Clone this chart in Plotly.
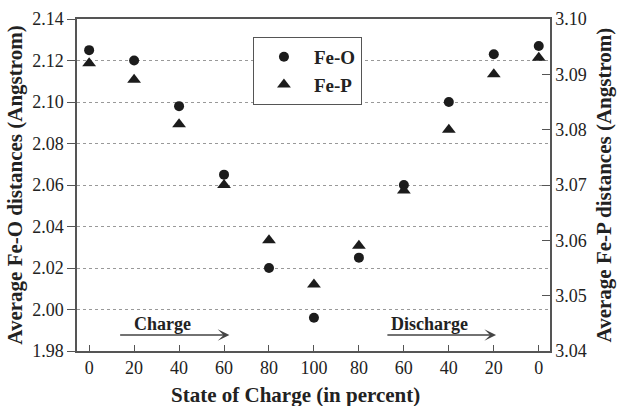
import plotly.graph_objects as go

soc_labels = ["0", "20", "40", "60", "80", "100", "80", "60", "40", "20", "0"]
fe_o = [2.125, 2.120, 2.098, 2.065, 2.020, 1.996, 2.025, 2.060, 2.100, 2.123, 2.127]
fe_p = [3.092, 3.089, 3.081, 3.070, 3.060, 3.052, 3.059, 3.069, 3.080, 3.090, 3.093]
x_idx = list(range(len(soc_labels)))

FONT = "Liberation Serif"
DARK = "#1c1c1c"
AXC = "#555555"

fig = go.Figure()
fig.add_trace(go.Scatter(x=x_idx, y=fe_o, mode="markers", name="<b>Fe-O</b>",
                         marker=dict(symbol="circle", size=10, color=DARK)))
fig.add_trace(go.Scatter(x=x_idx, y=fe_p, mode="markers", name="<b>Fe-P</b>", yaxis="y2",
                         marker=dict(symbol="triangle-up", size=12, color=DARK)))

fig.update_layout(
    width=617, height=406,
    margin=dict(l=77, r=67, t=19, b=55, autoexpand=False),
    paper_bgcolor="white", plot_bgcolor="white",
    font=dict(family=FONT, size=18, color="#222"),
    showlegend=True,
    legend=dict(x=0.372, y=0.946, xanchor="left", yanchor="top",
                bordercolor=AXC, borderwidth=1, bgcolor="white",
                font=dict(family=FONT, size=19, color="#222"),
                itemwidth=50, tracegroupgap=0),
    xaxis=dict(range=[-0.27, 10.25], tickmode="array", tickvals=x_idx, ticktext=soc_labels,
               showline=True, linecolor=AXC, linewidth=1.5, mirror=True, automargin=False,
               ticks="inside", ticklen=6, tickcolor=AXC, showgrid=False, zeroline=False,
               tickfont=dict(size=18)),
    yaxis=dict(range=[1.98, 2.14], dtick=0.02, tick0=1.98, tickformat=".2f",
               showline=True, linecolor=AXC, linewidth=1.5, automargin=False,
               ticks="outside", ticklen=8, tickcolor=AXC,
               showgrid=True, gridcolor="#999", griddash="dot", gridwidth=1, zeroline=False,
               tickfont=dict(size=18),
               title=dict(text="<b>Average Fe-O distances (Angstrom)</b>", font=dict(size=21), standoff=4)),
    yaxis2=dict(range=[3.04, 3.10], dtick=0.01, tick0=3.04, tickformat=".2f",
                overlaying="y", side="right", automargin=False,
                showline=True, linecolor=AXC, linewidth=1.5,
                ticks="inside", ticklen=8, tickcolor=AXC, showgrid=False, zeroline=False,
                tickfont=dict(size=18),
                title=dict(text="<b>Average Fe-P distances (Angstrom)</b>", font=dict(size=21), standoff=10)),
)

# x-axis title placed as annotation (slightly left of centre, as in the original)
fig.add_annotation(x=0.463, y=-0.1325, xref="paper", yref="paper", yanchor="middle",
                   text="<b>State of Charge (in percent)</b>", showarrow=False,
                   font=dict(family=FONT, size=21, color="#222"))

# arrows with labels (Charge / Discharge)
arrows = [("Charge", 0.656, 3.12), ("Discharge", 6.6, 9.05)]
for label, x0, x1 in arrows:
    fig.add_annotation(x=x1, y=1.9877, ax=x0, ay=1.9877, xref="x", yref="y", axref="x", ayref="y",
                       text="", showarrow=True, arrowhead=3, arrowsize=1.3, arrowwidth=1.5,
                       arrowcolor="#444")
    fig.add_annotation(x=(x0 + x1) / 2 - 0.25, y=1.9932, xref="x", yref="y", text=f"<b>{label}</b>",
                       showarrow=False, font=dict(family=FONT, size=18, color="#222"))

fig.write_html("out.html")
